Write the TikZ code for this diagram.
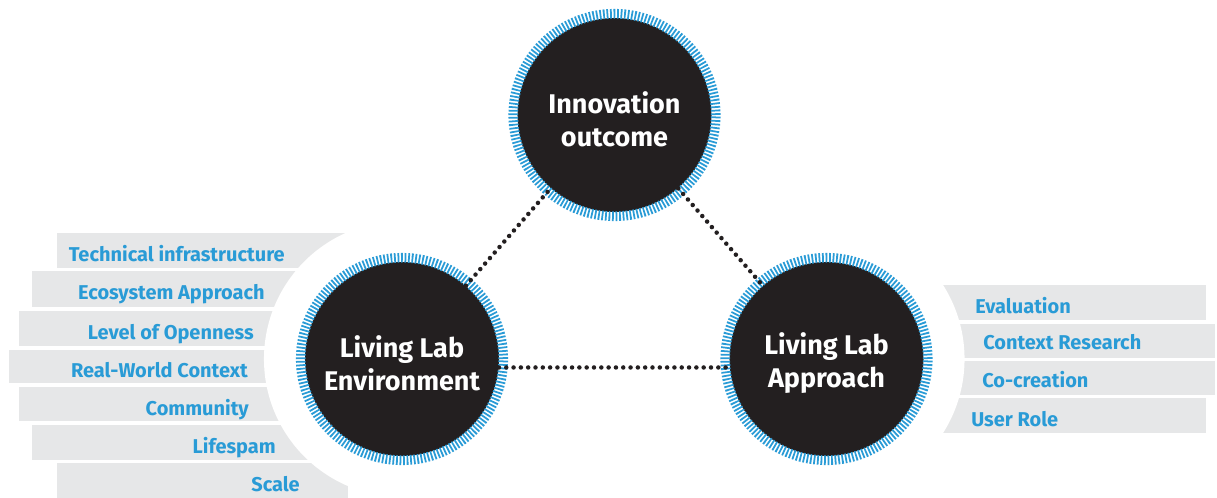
\documentclass[tikz,border=0pt]{standalone}
\usepackage{fontspec}
\setmainfont{Fira Sans}
\usepackage{tikz}
\definecolor{llblue}{RGB}{41,155,214}
\definecolor{llgray}{RGB}{230,231,232}
\definecolor{lldark}{RGB}{35,31,32}
% lowers a line of hub text without changing its box
\newcommand{\hubline}[1]{\raisebox{-3pt}[\height][\depth]{#1}}
\tikzset{
  hub/.style={circle, fill=lldark, minimum size=4.85cm, inner sep=0pt, text=white, align=center, font=\bfseries\fontsize{19.2}{23.5}\selectfont},
  ring/.style={draw=llblue, line width=6.9pt, dash pattern=on 1.25pt off 1.25pt},
  bar/.style={fill=llgray},
  item/.style={text=llblue, font=\bfseries\fontsize{14.2}{17}\selectfont, inner sep=0pt},
  link/.style={draw=lldark, line width=3.2pt, line cap=round, dash pattern=on 0pt off 5.2pt},
}
\begin{document}
\begin{tikzpicture}[x=0.025cm,y=-0.025cm]
    \useasboundingbox (0,0) rectangle (1217,498);

    % bars on the left
    \fill[bar] (57,233) rectangle (345,268);
    \fill[bar] (32,271) rectangle (345,307);
    \fill[bar] (19,311) rectangle (345,346);
    \fill[bar] (9,350) rectangle (345,383);
    \fill[bar] (19,387) rectangle (345,421);
    \fill[bar] (32,425) rectangle (345,460);
    \fill[bar] (57,463) rectangle (348,498);
    % bars on the right
    \fill[bar] (942,285) rectangle (1206,320);
    \fill[bar] (942,324) rectangle (1215,358);
    \fill[bar] (942,361) rectangle (1215,395);
    \fill[bar] (942,398) rectangle (1206,433);

    \coordinate (innoc) at (614.5,115);
    \coordinate (envc) at (402,359);
    \coordinate (appc) at (826.5,359);
    \fill[white] (envc) circle[radius=3.45cm];
    \fill[white] (appc) circle[radius=3.45cm];

    \node[item, anchor=base east] (tech) at (285,261.5) {Technical infrastructure};
    \node[item, anchor=base east] (eco) at (265,300) {Ecosystem Approach};
    \node[item, anchor=base east] (open) at (254,339.5) {Level of Openness};
    \node[item, anchor=base east] (real) at (248,377.5) {Real-World Context};
    \node[item, anchor=base east] (comm) at (249,415) {Community};
    \node[item, anchor=base east] (life) at (276,453.5) {Lifespam};
    \node[item, anchor=base east] (scale) at (300,491.5) {Scale};

    \node[item, anchor=base west] (eval) at (975,313.3) {Evaluation};
    \node[item, anchor=base west] (ctx) at (983,349.3) {Context Research};
    \node[item, anchor=base west] (cocr) at (982,387.3) {Co-creation};
    \node[item, anchor=base west] (user) at (971,426) {User Role};

    \node[hub] (inno) at (innoc) {\hubline{Innovation}\\\hubline{outcome}};
    \node[hub] (env) at (envc) {\hubline{Living Lab}\\\hubline{Environment}};
    \node[hub] (app) at (appc) {\hubline{Living Lab}\\\hubline{Approach}};

    \draw[ring] (inno.center) circle[radius=2.53cm];
    \draw[ring] (env.center) circle[radius=2.53cm];
    \draw[ring] (app.center) circle[radius=2.53cm];

    \path[link] (env) -- (inno);
    \path[link] (inno) -- (app);
    \path[link] (env.-5) -- (app.185);
\end{tikzpicture}
\end{document}
